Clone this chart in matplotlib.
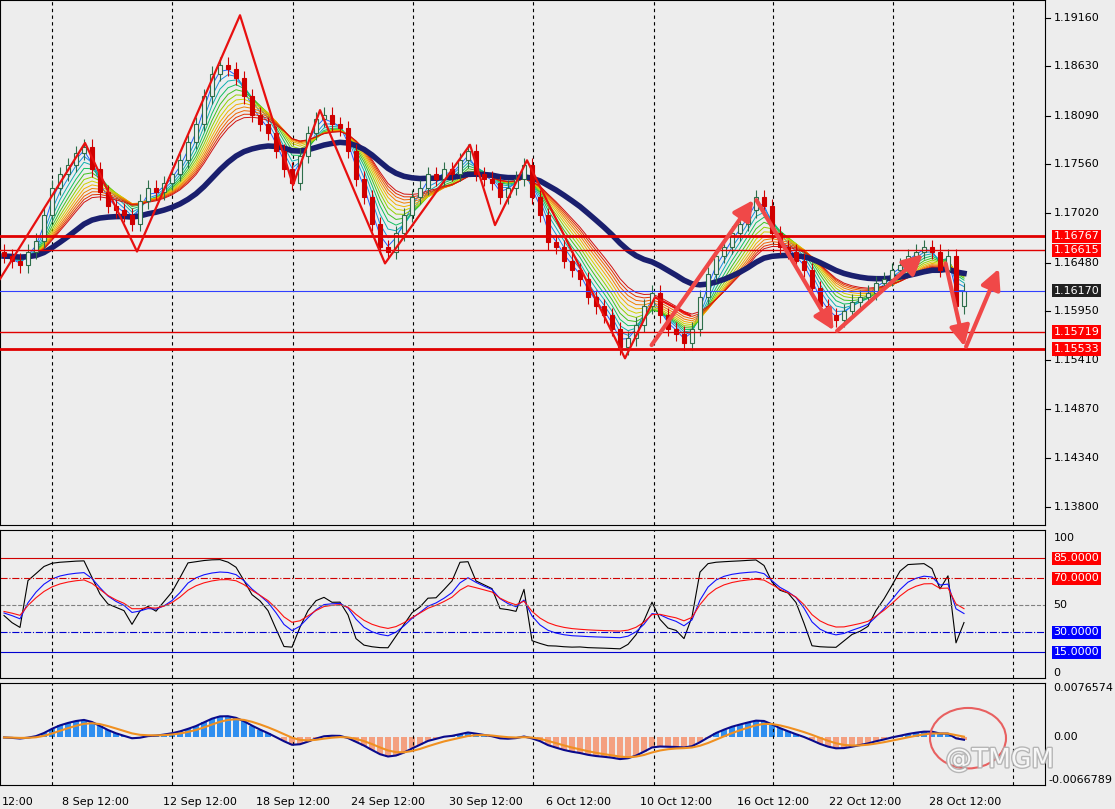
import numpy as np
import matplotlib
matplotlib.use("Agg")
import matplotlib.pyplot as plt
import matplotlib.patheffects as pe
from matplotlib.patches import Rectangle, Ellipse

# --- data (one close every 8 px on the original chart) ---
closes = [1.1655, 1.1650, 1.1645, 1.1660, 1.1672,
          1.1700, 1.1730, 1.1745, 1.1755, 1.1768, 1.1775,
          1.1750, 1.1725, 1.1710, 1.1705, 1.1700, 1.1690,
          1.1715, 1.1730, 1.1725, 1.1735, 1.1745, 1.1760, 1.1780, 1.1800, 1.1830, 1.1855, 1.1865, 1.1860, 1.1850,
          1.1830, 1.1810, 1.1800, 1.1790, 1.1770, 1.1750, 1.1735,
          1.1765, 1.1790, 1.1805, 1.1810, 1.1800, 1.1795,
          1.1770, 1.1740, 1.1720, 1.1690, 1.1665, 1.1660,
          1.1680, 1.1700, 1.1720, 1.1730, 1.1745, 1.1740, 1.1750, 1.1745, 1.1760, 1.1770,
          1.1745, 1.1740, 1.1735, 1.1720, 1.1730, 1.1740, 1.1755,
          1.1720, 1.1700, 1.1670, 1.1665, 1.1650, 1.1640, 1.1630, 1.1610, 1.1600, 1.1590, 1.1575, 1.1555,
          1.1565, 1.1580, 1.1600, 1.1615, 1.1590, 1.1575, 1.1570, 1.1560, 1.1575,
          1.1610, 1.1635, 1.1655, 1.1665, 1.1680, 1.1690, 1.1705, 1.1720, 1.1710,
          1.1680, 1.1665, 1.1660, 1.1650, 1.1640, 1.1620, 1.1600, 1.1590, 1.1585,
          1.1595, 1.1605, 1.1610, 1.1615, 1.1625, 1.1630, 1.1640, 1.1645, 1.1655, 1.1660, 1.1665, 1.1660,
          1.1640, 1.1655, 1.1600, 1.1617]
first_open = 1.1660

zz_px = [0, 85, 137, 240, 293, 320, 385, 470, 495, 527, 625, 655, 690]
zz_price = [1.1630, 1.1779, 1.1660, 1.1919, 1.1733, 1.1815, 1.1647, 1.1777, 1.1689, 1.1760, 1.1543, 1.1610, 1.1590]

arrows_px = [(650, 755), (755, 835), (835, 925), (945, 965), (965, 1000)]
arrows_price = [(1.1555, 1.1719), (1.1719, 1.1571), (1.1571, 1.1659), (1.1650, 1.1553), (1.1553, 1.1644)]

hlines = [(1.16767, '#e00000', 2.0), (1.16615, '#e00000', 1.0), (1.16170, '#3040ff', 0.8),
          (1.15719, '#e00000', 1.0), (1.15533, '#e00000', 2.0)]
price_ticks = [1.19160, 1.18630, 1.18090, 1.17560, 1.17020, 1.16480,
               1.15950, 1.15410, 1.14870, 1.14340, 1.13800]
time_px = [18, 95, 200, 293, 388, 486, 578, 676, 773, 865, 965]
time_labels = ['12:00', '8 Sep 12:00', '12 Sep 12:00', '18 Sep 12:00', '24 Sep 12:00',
               '30 Sep 12:00', '6 Oct 12:00', '10 Oct 12:00', '16 Oct 12:00',
               '22 Oct 12:00', '28 Oct 12:00']
grid_px = [52, 172, 293, 413, 533, 654, 773, 893, 1013]

BG = '#ededed'
W, H = 1115, 809


def px(x):
    return (x - 4) / 8.0


closes = np.array(closes)
opens = np.r_[first_open, closes[:-1]]
wick = 0.0008
highs = np.maximum(opens, closes) + wick
lows = np.minimum(opens, closes) - wick
n = len(closes)
idx = np.arange(n)


def ema(a, p):
    out = np.empty_like(a)
    k = 2 / (p + 1)
    out[0] = a[0]
    for i in range(1, len(a)):
        out[i] = a[i] * k + out[i - 1] * (1 - k)
    return out


fig = plt.figure(figsize=(W / 100, H / 100), dpi=100, facecolor=BG)


def add(y0, y1):
    ax = fig.add_axes([0, 1 - y1 / H, 1045 / W, (y1 - y0) / H], facecolor=BG)
    ax.set_xlim(px(0), px(1045))
    ax.set_xticks([])
    ax.set_yticks([])
    for s in ax.spines.values():
        s.set_color('black')
    for g in grid_px:
        ax.axvline(px(g), color='black', ls=(0, (3, 3)), lw=0.8)
    return ax


# --- main price panel ---
ax = add(0, 525)
ax.set_ylim(1.13603, 1.19357)
rainbow = ['#2060ff', '#1890e0', '#10b0b0', '#10c060', '#40c020', '#90d000',
           '#d0d000', '#f0b000', '#f08000', '#f06000', '#e03000', '#d01010']
for j, c in enumerate(rainbow):
    ax.plot(idx, ema(closes, 2 + j), color=c, lw=0.7, zorder=2)
ax.plot(idx, ema(closes, 26), color='#1a1f6e', lw=4, zorder=3)
for i in range(n):
    up = closes[i] >= opens[i]
    col = '#2e6e4a' if up else '#d00000'
    ax.vlines(i, lows[i], highs[i], color=col, lw=0.8, zorder=4)
    b0, b1 = sorted([opens[i], closes[i]])
    ax.add_patch(Rectangle((i - 0.3, b0), 0.6, max(b1 - b0, 0.00005),
                           facecolor=BG if up else col, edgecolor=col, lw=0.8, zorder=5))
for y, c, lw in hlines:
    ax.axhline(y, color=c, lw=lw, zorder=6)
ax.plot([px(x) for x in zz_px], zz_price, color='#e81010', lw=1.6, zorder=7)
for (xa, xb), (ya, yb) in zip(arrows_px, arrows_price):
    ax.annotate('', xy=(px(xb), yb), xytext=(px(xa), ya),
                arrowprops=dict(arrowstyle='-|>,head_width=0.6,head_length=1.2',
                                color='#f04848', lw=3), zorder=8)
for t in price_ticks:
    ax.text(1.008, t, f'{t:.5f}', transform=ax.get_yaxis_transform(), fontsize=8, va='center')
    ax.plot([1.0, 1.005], [t, t], transform=ax.get_yaxis_transform(), color='black', lw=0.8, clip_on=False)
for y, c, lw in hlines:
    fc = '#202020' if c == '#3040ff' else '#ff0000'
    ax.text(1.008, y, f'{y:.5f}', transform=ax.get_yaxis_transform(), fontsize=8, va='center',
            color='white', bbox=dict(boxstyle='square,pad=0.15', fc=fc, ec='none'), zorder=9)

# --- stochastic panel ---
ax2 = add(530, 678)
ax2.set_ylim(-4, 106)
lb = 12
lo14 = np.array([lows[max(0, i - lb):i + 1].min() for i in range(n)])
hi14 = np.array([highs[max(0, i - lb):i + 1].max() for i in range(n)])
k = 100 * (closes - lo14) / (hi14 - lo14)
k = 15 + 0.72 * k
ax2.plot(idx, k, color='black', lw=0.8)
ax2.plot(idx, 50 + 0.75 * (ema(k, 3) - 50), color='#1010ff', lw=0.8)
ax2.plot(idx, 50 + 0.6 * (ema(k, 4) - 50), color='#ff1010', lw=0.8)
ax2.axhline(85, color='#d00000', lw=0.8)
ax2.axhline(70, color='#d00000', lw=0.8, ls='-.')
ax2.axhline(50, color='gray', lw=0.8, ls='--')
ax2.axhline(30, color='#0000d0', lw=0.8, ls='-.')
ax2.axhline(15, color='#0000d0', lw=0.8)
tr = ax2.get_yaxis_transform()
for v in [100, 50, 0]:
    ax2.text(1.008, v, str(v), transform=tr, fontsize=8, va='center')
for v, fc in [(85, '#ff0000'), (70, '#ff0000'), (30, '#0000ff'), (15, '#0000ff')]:
    ax2.text(1.008, v, f'{v:.4f}', transform=tr, fontsize=8, va='center', color='white',
             bbox=dict(boxstyle='square,pad=0.15', fc=fc, ec='none'))

# --- MACD panel ---
ax3 = add(683, 785)
ax3.set_ylim(-0.0066789, 0.0076574)
macd = ema(closes, 6) - ema(closes, 13)
sig = ema(macd, 5)
ax3.bar(idx, macd * 0.8, width=0.8, color=np.where(macd >= 0, '#2f8ff0', '#f4a080'))
ax3.plot(idx, macd * 0.8, color='#0a0a8c', lw=1.5)
ax3.plot(idx, sig * 0.8, color='#f09020', lw=1.5)
tr = ax3.get_yaxis_transform()
ax3.text(1.008, 0.0076574, '0.0076574', transform=tr, fontsize=8, va='top')
ax3.text(1.008, 0.0, '0.00', transform=tr, fontsize=8, va='center')
ax3.text(1.003, -0.0066789, '-0.0066789', transform=tr, fontsize=8, va='bottom', clip_on=False)
ax3.add_patch(Ellipse((px(968), -0.0001), 9.5, 0.0085, fill=False, ec='#e86060', lw=1.5, zorder=9))
ax3.text(px(1000), -0.0032, '@TMGM', fontsize=19, color='white', ha='center', va='center',
         alpha=0.9, zorder=10, path_effects=[pe.withStroke(linewidth=2, foreground='#b0b0b0')])

for x, lab in zip(time_px, time_labels):
    fig.text(x / W, 1 - 802 / H, lab, fontsize=8, ha='center', va='center')

fig.savefig('out.png', dpi=100, facecolor=BG)
